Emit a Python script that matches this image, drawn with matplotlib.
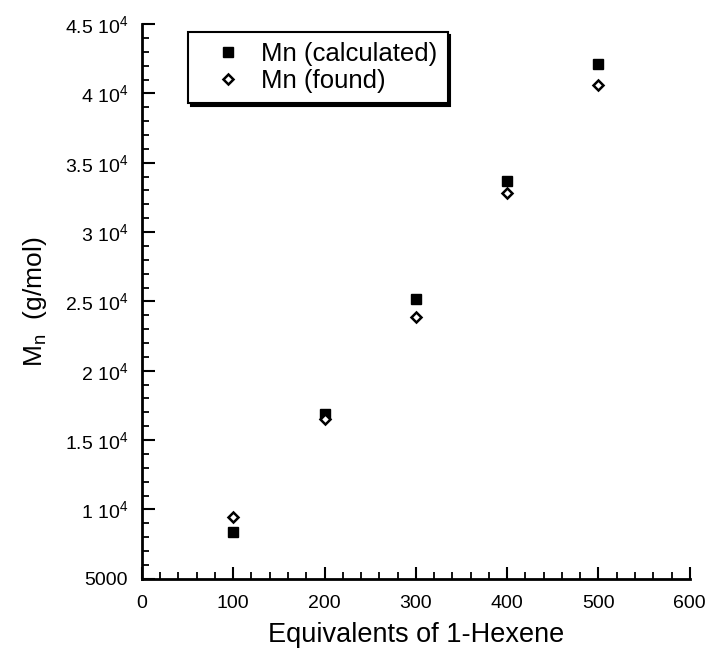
import matplotlib
matplotlib.use("Agg")
import matplotlib.pyplot as plt
from matplotlib.ticker import MultipleLocator, FixedLocator, FixedFormatter

plt.rcParams['font.family'] = ['Liberation Sans', 'DejaVu Sans']
plt.rcParams['mathtext.default'] = 'regular'

# data
equiv = [100, 200, 300, 400, 500]
mn_calc = [8400, 16850, 25200, 33700, 42100]
mn_found = [9450, 16500, 23900, 32800, 40600]

yticks = [5000, 10000, 15000, 20000, 25000, 30000, 35000, 40000, 45000]
ylabels = ['5000', '1 10$^{4}$', '1.5 10$^{4}$', '2 10$^{4}$', '2.5 10$^{4}$',
           '3 10$^{4}$', '3.5 10$^{4}$', '4 10$^{4}$', '4.5 10$^{4}$']

fig = plt.figure(figsize=(7.06, 6.51), dpi=100)
ax = fig.add_axes([0.201, 0.111, 0.776, 0.852])

ax.plot(equiv, mn_calc, 's', color='black', markersize=7, label='Mn (calculated)', clip_on=False)
ax.plot(equiv, mn_found, 'D', markerfacecolor='white', markeredgecolor='black',
        markersize=5.5, markeredgewidth=1.8, label='Mn (found)', clip_on=False)

ax.set_xlim(0, 600)
ax.set_ylim(5000, 45000)
ax.xaxis.set_major_locator(MultipleLocator(100))
ax.xaxis.set_minor_locator(MultipleLocator(20))
ax.yaxis.set_major_locator(FixedLocator(yticks))
ax.yaxis.set_major_formatter(FixedFormatter(ylabels))
ax.yaxis.set_minor_locator(MultipleLocator(1000))

for s in ['top', 'right']:
    ax.spines[s].set_visible(False)
for s in ['left', 'bottom']:
    ax.spines[s].set_linewidth(2)

ax.tick_params(which='major', direction='in', length=9, width=1.5, labelsize=14)
ax.tick_params(axis='x', which='major', pad=12)
ax.tick_params(axis='y', which='major', pad=10)
ax.tick_params(which='minor', direction='in', length=5, width=1.3)

ax.set_xlabel('Equivalents of 1-Hexene', fontsize=19.5, labelpad=7)
ax.set_ylabel('M$_{n}$  (g/mol)', fontsize=19, labelpad=11)

leg = ax.legend(loc='upper left', bbox_to_anchor=(0.084, 0.986), fontsize=18.5,
                frameon=True, fancybox=False, edgecolor='black',
                shadow={'color': 'black', 'alpha': 1},
                handletextpad=0.15, borderpad=0.4, labelspacing=0.1,
                handlelength=2.3, borderaxespad=0)
leg.get_frame().set_linewidth(1.5)

fig.savefig('out.png', dpi=100)
